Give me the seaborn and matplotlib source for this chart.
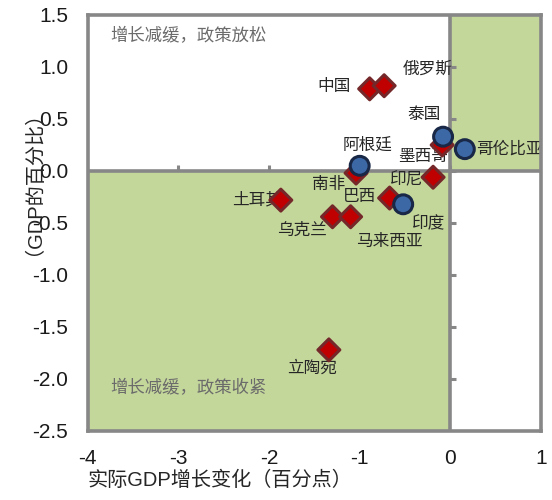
import matplotlib
matplotlib.use("Agg")
import matplotlib.pyplot as plt
import seaborn as sns
import pandas as pd

# Data: change in real GDP growth (pp) vs. policy stance (% of GDP)
countries = ["中国", "俄罗斯", "泰国", "墨西哥", "哥伦比亚", "阿根廷", "南非", "印尼",
             "巴西", "印度", "土耳其", "乌克兰", "马来西亚", "立陶宛"]
gdp_change = [-0.89, -0.73, -0.08, -0.09, 0.16, -1.00, -1.04, -0.19,
              -0.67, -0.52, -1.87, -1.30, -1.10, -1.34]
policy = [0.79, 0.82, 0.33, 0.25, 0.21, 0.05, -0.02, -0.06,
          -0.26, -0.32, -0.28, -0.44, -0.44, -1.72]
group = ["A", "A", "B", "A", "B", "B", "A", "A",
         "A", "B", "A", "A", "A", "A"]

x_ticks = [-4, -3, -2, -1, 0, 1]
y_ticks = [-2.5, -2.0, -1.5, -1.0, -0.5, 0.0, 0.5, 1.0, 1.5]
quadrant_top = "增长减缓，政策放松"
quadrant_bottom = "增长减缓，政策收紧"
x_title = "实际GDP增长变化（百分点）"
y_title = "（GDP的百分比）"

df = pd.DataFrame({"country": countries, "x": gdp_change, "y": policy, "group": group})
# diamonds first so the circles sit on top
df = df.sort_values("group", kind="stable").reset_index(drop=True)

sns.set_theme(style="white")
plt.rcParams["font.family"] = ["Liberation Sans", "Noto Sans CJK SC", "DejaVu Sans"]
plt.rcParams["axes.unicode_minus"] = False

fig = plt.figure(figsize=(5.52, 5.00), dpi=100)
ax = fig.add_axes([0.159, 0.138, 0.821, 0.832])

x0, x1 = x_ticks[0], x_ticks[-1]
y0, y1 = y_ticks[0], y_ticks[-1]
ax.set_xlim(x0, x1)
ax.set_ylim(y0, y1)

green = "#C4D79B"
grey = "#878787"
ax.fill_between([x0, 0], y0, 0, color=green, lw=0, zorder=0)
ax.fill_between([0, x1], 0, y1, color=green, lw=0, zorder=0)

ax.axhline(0, color=grey, lw=2.6, zorder=1)
ax.axvline(0, color=grey, lw=2.6, zorder=1)
# small ticks along the zero lines
ax.plot(x_ticks[1:-1], [0] * len(x_ticks[1:-1]), ls="none", marker=2,
        ms=4, mew=2.2, color=grey, zorder=1)
ax.plot([0] * len(y_ticks[1:-1]), y_ticks[1:-1], ls="none", marker=1,
        ms=4, mew=2.2, color=grey, zorder=1)

sns.scatterplot(data=df, x="x", y="y", hue="group", style="group",
                size="group", sizes={"A": 125, "B": 185},
                hue_order=["A", "B"], style_order=["A", "B"],
                palette={"A": "#C00000", "B": "#3C68A6"},
                markers={"A": "D", "B": "o"}, linewidth=2.2,
                legend=False, ax=ax, zorder=3)
coll = ax.collections[-1]
edge_map = {"A": "#74282A", "B": "#182846"}
coll.set_edgecolors([edge_map[g] for g in df["group"]])

# label offsets in points (dx, dy, ha)
offsets = {
    "中国": (-14, 2, "right"),
    "俄罗斯": (13, 12, "left"),
    "泰国": (-14, 16, "center"),
    "墨西哥": (-14, -8, "center"),
    "哥伦比亚": (8, 0, "left"),
    "阿根廷": (6, 15, "center"),
    "南非": (-8, -8, "right"),
    "印尼": (-7, -2, "right"),
    "巴西": (-10, 1, "right"),
    "印度": (18, -14, "center"),
    "土耳其": (-17, 0, "center"),
    "乌克兰": (-22, -10, "center"),
    "马来西亚": (28, -18, "center"),
    "立陶宛": (-12, -13, "center"),
}
for c, xv, yv in zip(countries, gdp_change, policy):
    dx, dy, ha = offsets[c]
    ax.annotate(c, (xv, yv), xytext=(dx, dy), textcoords="offset points",
                ha=ha, va="center", fontsize=12, color="#262626",
                family=["Noto Sans CJK SC"], zorder=2, annotation_clip=False)

ax.text(-3.75, 1.30, quadrant_top, fontsize=12.5, color="#6b6b6b",
        family=["Noto Sans CJK SC"], va="center", ha="left")
ax.text(-3.75, -2.09, quadrant_bottom, fontsize=12.5, color="#6b6b6b",
        family=["Noto Sans CJK SC"], va="center", ha="left")

ax.set_xticks(x_ticks)
ax.set_yticks(y_ticks)
ax.set_xticklabels([str(v) for v in x_ticks])
ax.set_yticklabels([f"{v:.1f}" for v in y_ticks])
ax.tick_params(axis="both", length=0, labelsize=15, colors="#1a1a1a")
ax.tick_params(axis="y", pad=14)
ax.tick_params(axis="x", pad=13)

for sp in ax.spines.values():
    sp.set_visible(True)
    sp.set_color(grey)
    sp.set_linewidth(2.6)

ax.set_xlabel(x_title, fontsize=14.5, color="#262626")
ax.set_ylabel(y_title, fontsize=14.5, color="#262626")
ax.xaxis.set_label_coords(0.291, -0.096)
ax.yaxis.set_label_coords(-0.12, 0.62)

fig.savefig("out.png", dpi=100)
